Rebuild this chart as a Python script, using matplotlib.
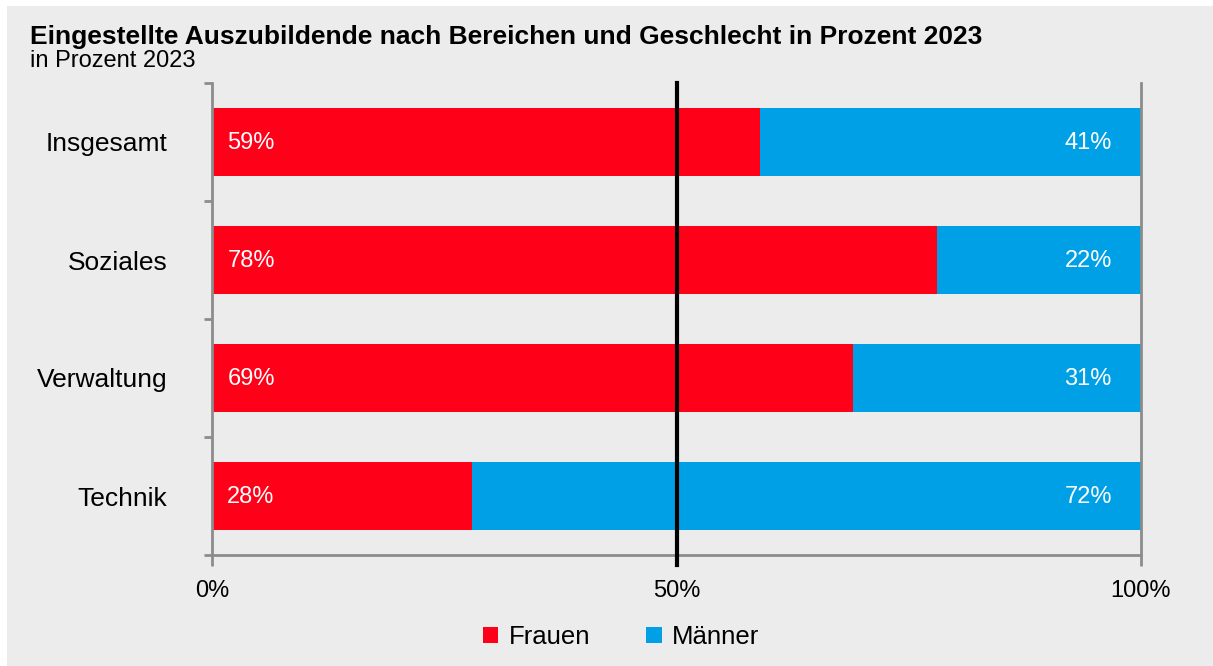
import matplotlib.pyplot as plt
from matplotlib.patches import Rectangle

plt.rcParams['font.family'] = ['Liberation Sans', 'DejaVu Sans']

kategorien = ['Insgesamt', 'Soziales', 'Verwaltung', 'Technik']
frauen = [59, 78, 69, 28]
maenner = [41, 22, 31, 72]
xticks = [0, 50, 100]
xticklabels = ['0%', '50%', '100%']

rot = '#ff0019'
blau = '#00a0e6'
grau_bg = '#ececec'
grau = '#8c8c8c'

fig = plt.figure(figsize=(12.13, 6.66), dpi=100)
fig.patch.set_facecolor('white')
fig.patches.append(Rectangle((7 / 1213, 0), 1, 1 - 6 / 666, transform=fig.transFigure,
                             facecolor=grau_bg, edgecolor='none', zorder=-10))

ax = fig.add_axes([212 / 1213, 1 - 555 / 666, (1141 - 212) / 1213, (555 - 83) / 666])
ax.set_facecolor('none')

y = list(range(len(kategorien)))
ax.barh(y, frauen, height=0.57, color=rot, label='Frauen', zorder=2)
ax.barh(y, maenner, left=frauen, height=0.57, color=blau, label='Männer', zorder=2)

for i in y:
    ax.annotate(f'{frauen[i]}%', (0, i), xytext=(11, -1), textcoords='offset points',
                ha='left', va='center', color='white', fontsize=17)
    ax.annotate(f'{maenner[i]}%', (100, i), xytext=(-21, -1), textcoords='offset points',
                ha='right', va='center', color='white', fontsize=17)

ax.axvline(50, ymin=-0.022, ymax=1, color='black', lw=3, clip_on=False, zorder=3)

ax.set_xlim(0, 100)
ax.set_ylim(len(kategorien) - 0.5, -0.5)
ax.set_xticks(xticks)
ax.set_xticklabels(xticklabels, fontsize=17)
ax.set_yticks(y)
ax.set_yticklabels(kategorien, fontsize=19)
ax.set_yticks([i - 0.5 for i in range(len(kategorien) + 1)], minor=True)
ax.tick_params(axis='y', which='major', length=0, pad=32)
ax.tick_params(axis='y', which='minor', length=6, color=grau, width=2)
ax.tick_params(axis='x', length=8, color=grau, width=2, pad=10)

ax.spines['top'].set_visible(False)
for s in ['left', 'bottom', 'right']:
    ax.spines[s].set_color(grau)
    ax.spines[s].set_linewidth(2)

fig.text(30 / 1213, 1 - 37 / 666, 'Eingestellte Auszubildende nach Bereichen und Geschlecht in Prozent 2023',
         fontsize=19, fontweight='bold', ha='left', va='center')
fig.text(30 / 1213, 1 - 61 / 666, 'in Prozent 2023', fontsize=17, ha='left', va='center')

leg = fig.legend(loc='center', bbox_to_anchor=(0.512, 1 - 637 / 666), ncol=2, frameon=False,
                 fontsize=18.5, handlelength=0.6, handleheight=0.6, handletextpad=0.4,
                 columnspacing=2.2)

fig.savefig('out.png', dpi=100, facecolor=fig.get_facecolor())
